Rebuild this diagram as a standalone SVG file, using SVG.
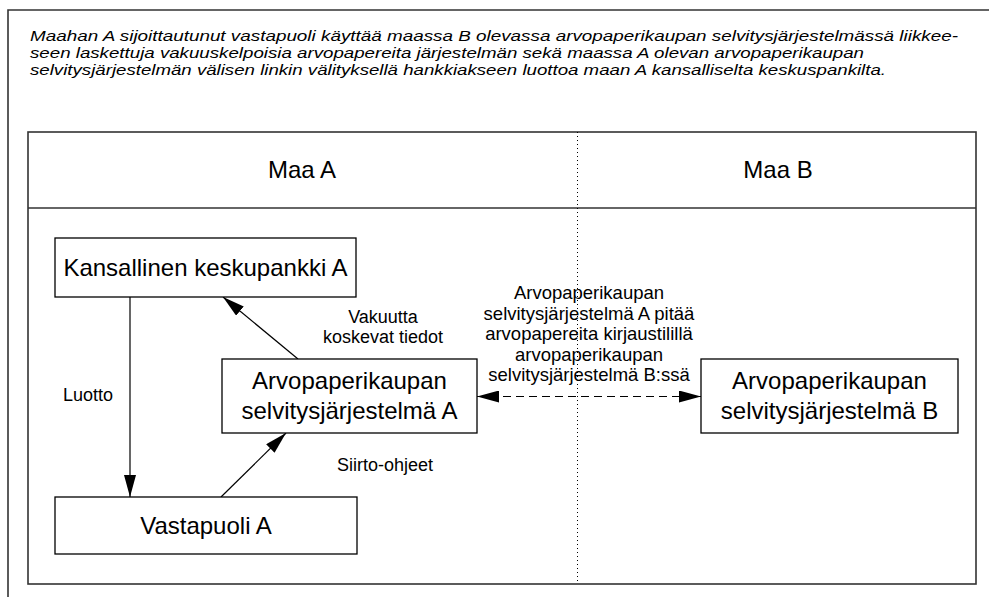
<svg xmlns="http://www.w3.org/2000/svg" width="989" height="597" viewBox="0 0 989 597">
<style>
text{font-family:"Liberation Sans",Arial,sans-serif;fill:#000}
.hdr{font-size:15px;font-style:italic}
.box{font-size:24px;text-anchor:middle}
.lbl{font-size:18px;text-anchor:middle}
.dl{font-size:18.5px;text-anchor:middle}
.node rect{fill:#fff;stroke:#000;stroke-width:1.3}
.frame{fill:none;stroke:#333;stroke-width:1.6}
.conn{stroke:#000;stroke-width:1.2;fill:none}
</style>
<defs>
<marker id="ah" viewBox="0 0 22 12" markerWidth="22" markerHeight="12" refX="22" refY="6" orient="auto-start-reverse" markerUnits="userSpaceOnUse">
<path d="M0,0 L22,6 L0,12 z" fill="#000"/>
</marker>
</defs>
<rect width="989" height="597" fill="#fff"/>
<g id="frame">
<path class="frame" d="M8,597 V10 H989"/>
<rect class="frame" x="28" y="132" width="948" height="452"/>
<line class="frame" x1="28" y1="208" x2="976" y2="208"/>
<line x1="577.5" y1="132" x2="577.5" y2="584" stroke="#000" stroke-width="1" stroke-dasharray="1,3"/>
</g>
<g id="caption">
<text class="hdr" x="30" y="40.5" textLength="928" lengthAdjust="spacingAndGlyphs">Maahan A sijoittautunut vastapuoli käyttää maassa B olevassa arvopaperikaupan selvitysjärjestelmässä liikkee-</text>
<text class="hdr" x="30" y="57.5" textLength="834" lengthAdjust="spacingAndGlyphs">seen laskettuja vakuuskelpoisia arvopapereita järjestelmän sekä maassa A olevan arvopaperikaupan</text>
<text class="hdr" x="30" y="74.5" textLength="856" lengthAdjust="spacingAndGlyphs">selvitysjärjestelmän välisen linkin välityksellä hankkiakseen luottoa maan A kansalliselta keskuspankilta.</text>
</g>
<g id="headers">
<text class="box" x="302" y="178">Maa A</text>
<text class="box" x="778" y="178">Maa B</text>
</g>
<g id="connectors">
<line class="conn" x1="130" y1="297" x2="130" y2="497" marker-end="url(#ah)"/>
<line class="conn" x1="298" y1="359" x2="223" y2="297" marker-end="url(#ah)"/>
<line class="conn" x1="221" y1="497" x2="286" y2="433" marker-end="url(#ah)"/>
<line class="conn" x1="477" y1="396.5" x2="701" y2="396.5" stroke-width="1.6" stroke-dasharray="8,5" marker-start="url(#ah)" marker-end="url(#ah)"/>
<text class="lbl" x="88" y="401">Luotto</text>
<text class="lbl" x="383" y="323">Vakuutta</text>
<text class="lbl" x="383" y="343">koskevat tiedot</text>
<text class="lbl" x="385" y="471">Siirto-ohjeet</text>
<text class="dl" x="589" y="299">Arvopaperikaupan</text>
<text class="dl" x="589" y="319.5">selvitysjärjestelmä A pitää</text>
<text class="dl" x="589" y="340">arvopapereita kirjaustilillä</text>
<text class="dl" x="589" y="360.5">arvopaperikaupan</text>
<text class="dl" x="589" y="381">selvitysjärjestelmä B:ssä</text>
</g>
<g id="n-keskuspankki" class="node">
<rect x="55" y="238" width="301" height="59"/>
<text class="box" x="205.5" y="276">Kansallinen keskupankki A</text>
</g>
<g id="n-selvitysA" class="node">
<rect x="222" y="359" width="255" height="74"/>
<text class="box" x="349.5" y="389">Arvopaperikaupan</text>
<text class="box" x="349.5" y="419">selvitysjärjestelmä A</text>
</g>
<g id="n-selvitysB" class="node">
<rect x="701" y="359" width="257" height="74"/>
<text class="box" x="829.5" y="389">Arvopaperikaupan</text>
<text class="box" x="829.5" y="419">selvitysjärjestelmä B</text>
</g>
<g id="n-vastapuoli" class="node">
<rect x="55" y="497" width="302" height="57"/>
<text class="box" x="206" y="534">Vastapuoli A</text>
</g>
</svg>
